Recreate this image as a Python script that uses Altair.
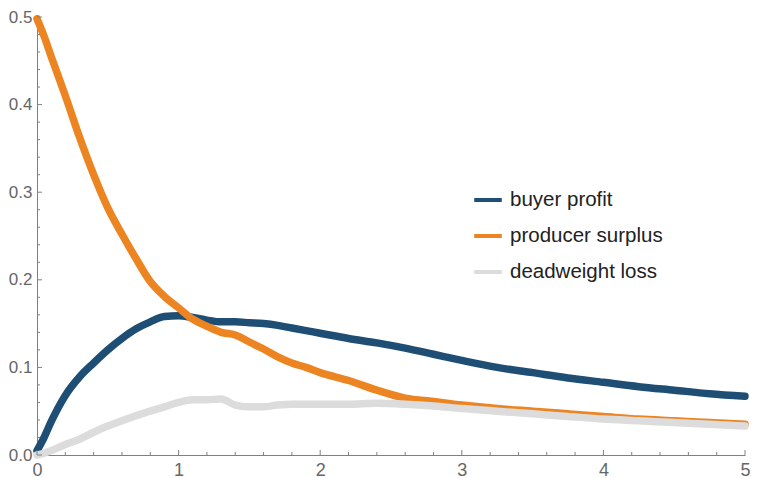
import altair as alt
import pandas as pd

# ---- data ----
x_vals = [0, 0.05, 0.1, 0.2, 0.3, 0.4, 0.5, 0.6, 0.7, 0.8, 0.9, 1.0, 1.1, 1.2, 1.3, 1.4,
          1.5, 1.6, 1.7, 1.8, 1.9, 2.0, 2.2, 2.4, 2.6, 2.8, 3.0, 3.25, 3.5, 3.75, 4.0,
          4.25, 4.5, 4.75, 5.0]
buyer_profit = [0.005, 0.02, 0.038, 0.068, 0.089, 0.105, 0.120, 0.133, 0.144, 0.152, 0.158,
                0.159, 0.157, 0.154, 0.152, 0.152, 0.151, 0.150, 0.148, 0.145, 0.142, 0.139,
                0.133, 0.128, 0.122, 0.115, 0.108, 0.100, 0.094, 0.088, 0.083, 0.078, 0.074,
                0.070, 0.067]
producer_surplus = [0.498, 0.478, 0.455, 0.41, 0.363, 0.32, 0.282, 0.252, 0.224, 0.198, 0.181,
                    0.168, 0.155, 0.147, 0.140, 0.137, 0.129, 0.121, 0.112, 0.105, 0.100, 0.094,
                    0.085, 0.074, 0.065, 0.061, 0.057, 0.053, 0.050, 0.047, 0.044, 0.041, 0.039,
                    0.037, 0.035]
deadweight_loss = [0.0, 0.002, 0.005, 0.012, 0.018, 0.026, 0.033, 0.039, 0.045, 0.050, 0.055,
                   0.060, 0.063, 0.063, 0.064, 0.057, 0.055, 0.055, 0.057, 0.058, 0.058, 0.058,
                   0.058, 0.059, 0.058, 0.056, 0.053, 0.050, 0.047, 0.044, 0.041, 0.039, 0.037,
                   0.035, 0.033]
series_names = ["buyer profit", "producer surplus", "deadweight loss"]
series_colors = ["#1f4e74", "#ec8422", "#dcdcdc"]

x_major = [0, 1, 2, 3, 4, 5]
x_minor = [0.2, 0.4, 0.6, 0.8, 1.2, 1.4, 1.6, 1.8, 2.2, 2.4, 2.6, 2.8, 3.2, 3.4, 3.6, 3.8,
           4.2, 4.4, 4.6, 4.8]
y_major = [0.0, 0.1, 0.2, 0.3, 0.4, 0.5]
y_minor = [0.02, 0.04, 0.06, 0.08, 0.12, 0.14, 0.16, 0.18, 0.22, 0.24, 0.26, 0.28,
           0.32, 0.34, 0.36, 0.38, 0.42, 0.44, 0.46, 0.48]

W, H = 708, 438

rows = []
for name, vals in zip(series_names, [buyer_profit, producer_surplus, deadweight_loss]):
    for xv, yv in zip(x_vals, vals):
        rows.append({"x": xv, "y": yv, "series": name})
df = pd.DataFrame(rows)

xscale = alt.Scale(domain=[0, 5], nice=False, zero=False)
yscale = alt.Scale(domain=[0, 0.5], nice=False)
color = alt.Color("series:N", scale=alt.Scale(domain=series_names, range=series_colors),
                  legend=alt.Legend(title=None))

xaxis = alt.Axis(values=x_major, format="d", ticks=False, grid=False, labelFontSize=18,
                 labelColor="#666666", domainColor="#808080", labelPadding=6,
                 labelFlush=False, labelOverlap=False,
                 labelFont="Liberation Sans", title=None)
yaxis = alt.Axis(values=y_major, format=".1f", ticks=False, grid=False, labelFontSize=17,
                 labelColor="#666666", domainColor="#808080", labelPadding=5,
                 labelFlush=False, labelOverlap=False,
                 labelFont="Liberation Sans", title=None)

layers = []
for name in series_names:
    layers.append(
        alt.Chart(df).transform_filter(alt.datum.series == name)
        .mark_line(strokeWidth=7.5, strokeJoin="round", strokeCap="round", interpolate="monotone")
        .encode(x=alt.X("x:Q", scale=xscale, axis=xaxis),
                y=alt.Y("y:Q", scale=yscale, axis=yaxis),
                color=color)
    )

tick_color = "#808080"
xmaj = alt.Chart(pd.DataFrame({"x": x_major})).mark_rule(color=tick_color, strokeWidth=1).encode(
    x="x:Q", y=alt.value(H), y2=alt.value(H - 5))
xmin = alt.Chart(pd.DataFrame({"x": x_minor})).mark_rule(color=tick_color, strokeWidth=1).encode(
    x="x:Q", y=alt.value(H), y2=alt.value(H - 3))
ymaj = alt.Chart(pd.DataFrame({"y": y_major})).mark_rule(color=tick_color, strokeWidth=1).encode(
    y="y:Q", x=alt.value(0), x2=alt.value(5))
ymin = alt.Chart(pd.DataFrame({"y": y_minor})).mark_rule(color=tick_color, strokeWidth=1).encode(
    y="y:Q", x=alt.value(0), x2=alt.value(3))

chart = alt.layer(*layers, xmaj, xmin, ymaj, ymin).properties(
    width=W, height=H,
    padding={"left": 29, "top": 9, "right": 6, "bottom": 23},
    autosize=alt.AutoSizeParams(type="none"),
).configure_view(stroke=None).configure_legend(
    orient="none", legendX=435, legendY=167, symbolType="stroke", symbolStrokeWidth=4,
    symbolSize=760, labelFontSize=20.5, labelColor="#222222", labelFont="Liberation Sans",
    rowPadding=9, labelOffset=6,
)

chart.save("out.html", embed_options={"renderer": "svg", "actions": False})
